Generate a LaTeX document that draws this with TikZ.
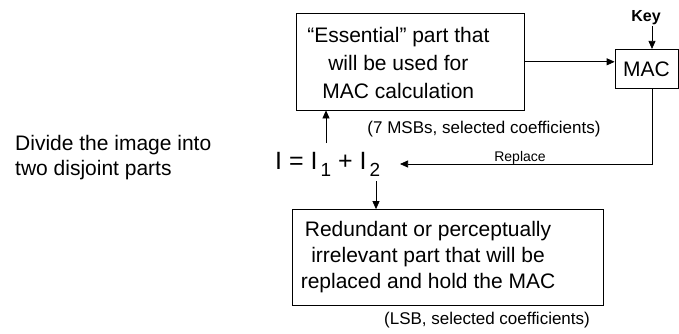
\documentclass[tikz,border=0pt]{standalone}
\usepackage{fontspec}
\setmainfont{Liberation Sans}
\usetikzlibrary{arrows.meta}
\begin{document}
\begin{tikzpicture}[x=1pt,y=-1pt,
  arr/.style={-{Triangle[length=8pt,width=7pt]}, line width=0.75pt},
  boxstyle/.style={draw, line width=0.75pt, inner sep=0pt},
  txtbig/.style={inner sep=0pt, font=\fontsize{21}{28}\selectfont, align=center},
  txtbot/.style={inner sep=0pt, font=\fontsize{21}{26}\selectfont, align=center},
  txtnote/.style={inner sep=0pt, font=\fontsize{17}{20}\selectfont},
  txtsmall/.style={inner sep=0pt, font=\fontsize{14}{16}\selectfont},
]
\useasboundingbox (0,0) rectangle (679,333);

% left description
\node[inner sep=0pt, anchor=west, align=left, font=\fontsize{21}{25}\selectfont] (desc) at (15,158)
  {Divide the image into\\two disjoint parts};

% top box
\node[boxstyle, minimum width=227.3pt, minimum height=97pt] (essential) at (410.35,61.5) {};
\node[txtbig] (esstext) at ([xshift=-12pt,yshift=-1pt]essential.center)
  {“Essential” part that\\will be used for\\MAC calculation};
\node[txtnote, anchor=base] (msb) at (484,133) {(7 MSBs, selected coefficients)};

% MAC box
\node[boxstyle, minimum width=63pt, minimum height=39pt, font=\fontsize{21}{24}\selectfont] (mac) at (646.5,68.8) {MAC};
\node[inner sep=1.5pt, anchor=base, font=\fontsize{16}{18}\selectfont\bfseries] (key) at (646,21) {Key};

% equation
\node[inner sep=0pt, anchor=base west, font=\fontsize{25}{30}\selectfont] (eq) at (275,169)
  {I = I\hspace{3pt}\raisebox{-7pt}{\fontsize{19}{19}\selectfont 1} + I\hspace{3pt}\raisebox{-7pt}{\fontsize{19}{19}\selectfont 2}};

% bottom box
\node[boxstyle, minimum width=311pt, minimum height=96pt] (redundant) at (447.5,257.5) {};
\node[txtbot] (redtext) at ([xshift=-19.5pt]redundant.center)
  {Redundant or perceptually\\irrelevant part that will be\\replaced and hold the MAC};
\node[txtnote, anchor=base] (lsb) at (487,324) {(LSB, selected coefficients)};

% connectors
\coordinate (upstart) at (326,143);
\draw[arr] (upstart) -- (upstart |- essential.south);

\coordinate (macin) at ([yshift=7pt]mac.west);
\draw[arr] (essential.east |- macin) -- (macin);

\draw[arr] ([xshift=5.5pt]mac.north |- key.south) -- ([xshift=5.5pt]mac.north);

\coordinate (replend) at (400,164);
\draw[arr] ([xshift=5.5pt]mac.south) |- (replend);
\node[txtsmall, anchor=base] (replace) at (520,161) {Replace};

\coordinate (downstart) at (376,181);
\draw[arr] (downstart) -- (downstart |- redundant.north);
\end{tikzpicture}
\end{document}
